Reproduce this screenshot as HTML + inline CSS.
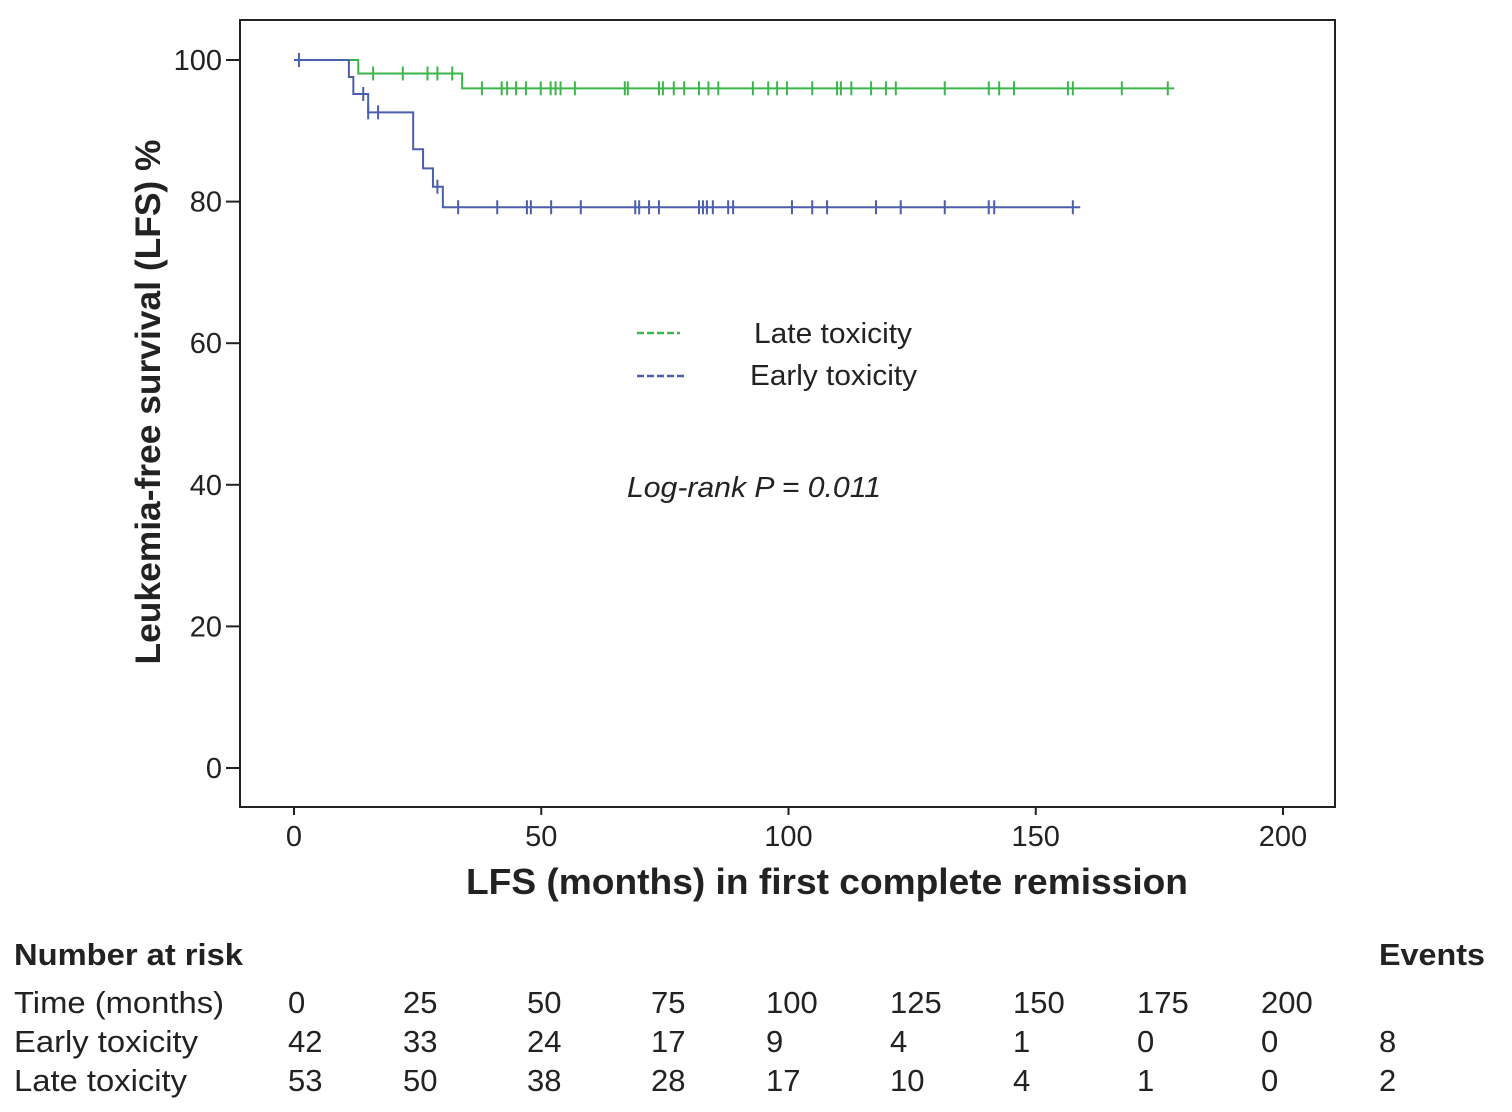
<!DOCTYPE html>
<html><head><meta charset="utf-8"><style>
body{margin:0;background:#fff;width:1512px;height:1107px;overflow:hidden;font-family:"Liberation Sans",Arial,sans-serif;}
</style></head><body>
<svg width="1512" height="1107" xmlns="http://www.w3.org/2000/svg" font-family="Liberation Sans, Arial, sans-serif">
<rect x="240" y="20" width="1095" height="787" fill="none" stroke="#222" stroke-width="2"/>
<g id="axes"></g>
<g id="curves"></g>
<text x="160" y="402" font-size="35" font-weight="bold" fill="#222" text-anchor="middle" textLength="525" lengthAdjust="spacingAndGlyphs" transform="rotate(-90 160 402)">Leukemia-free survival (LFS) %</text>
<text x="827" y="894" font-size="36" font-weight="bold" fill="#222" text-anchor="middle" textLength="722" lengthAdjust="spacingAndGlyphs">LFS (months) in first complete remission</text>
<g>
<line x1="637" y1="333" x2="680" y2="333" stroke="#3cb64a" stroke-width="2.5" stroke-dasharray="7,3"/>
<text x="754" y="343" font-size="29" fill="#222" textLength="158" lengthAdjust="spacingAndGlyphs">Late toxicity</text>
<line x1="637" y1="376" x2="686" y2="376" stroke="#4a5fae" stroke-width="2.5" stroke-dasharray="7,3"/>
<text x="750" y="385" font-size="29" fill="#222" textLength="167" lengthAdjust="spacingAndGlyphs">Early toxicity</text>
</g>
<text x="627" y="497" font-size="29" font-style="italic" fill="#222" textLength="254" lengthAdjust="spacingAndGlyphs">Log-rank P = 0.011</text>
<g font-size="31" fill="#222">
<text x="14" y="965" font-weight="bold" textLength="229" lengthAdjust="spacingAndGlyphs">Number at risk</text>
<text x="1379" y="965" font-weight="bold" textLength="106" lengthAdjust="spacingAndGlyphs">Events</text>
<g id="risk"></g>
</g>
</svg>
<script>
const NS='http://www.w3.org/2000/svg';
const xTicks=[0,50,100,150,200];
const yTicks=[0,20,40,60,80,100];
const lateSteps=[[0,100],[13,98.1],[34,96.0]];
const lateEnd=178;
const lateCensor=[16,22,27,29,32,38,42,43.1,44.9,46.9,49.9,51.9,52.9,53.9,56.8,66.9,67.5,73.8,74.6,76.8,78.9,81.9,83.8,85.8,92.8,95.9,97.7,99.7,104.8,109.8,110.6,112.7,116.7,119.7,121.7,131.6,140.5,142.6,145.6,156.5,157.5,167.4,176.7];
const earlySteps=[[0,100],[11.1,97.6],[12,95.2],[15,92.6],[24.1,87.4],[26.1,84.7],[28.1,82.1],[30.1,79.2]];
const earlyEnd=159;
const earlyCensor=[1,14,15,17,29,33.2,41.1,47.1,47.9,52,58,69,69.8,71.8,73.8,81.9,82.7,83.5,84.7,87.8,88.8,100.7,104.8,107.8,117.7,122.7,131.6,140.5,141.6,157.5];
const riskTimes=['0','25','50','75','100','125','150','175','200'];
const earlyRisk=['42','33','24','17','9','4','1','0','0'];
const lateRisk=['53','50','38','28','17','10','4','1','0'];
const events=['8','2'];
const X=m=>294+m*4.945, Y=v=>768-v*7.08;
function el(t,a,p){const e=document.createElementNS(NS,t);for(const k in a)e.setAttribute(k,a[k]);p.appendChild(e);return e;}
const axes=document.getElementById('axes');
xTicks.forEach(t=>{
 const l=el('line',{x1:X(t),x2:X(t),y1:807,y2:815,stroke:'#222','stroke-width':2},axes);
 
 
 const tx=el('text',{x:X(t),y:846,'font-size':29,'text-anchor':'middle',fill:'#222'},axes);tx.textContent=t;
 
 
});
yTicks.forEach(t=>{
 const l=el('line',{x1:226,x2:240,y1:Y(t),y2:Y(t),stroke:'#222','stroke-width':2},axes);
 
 
 const tx=el('text',{x:222,y:Y(t)+10,'font-size':29,'text-anchor':'end',fill:'#222'},axes);tx.textContent=t;
 
 
});
function survAt(steps,m){let v=100;steps.forEach(s=>{if(s[0]<=m)v=s[1];});return v;}
function curve(steps,end,cens,color,name){
 const g=document.getElementById('curves');
 let d='M'+X(0)+','+Y(steps[0][1]);
 for(let i=1;i<steps.length;i++){d+=' H'+X(steps[i][0])+' V'+Y(steps[i][1]);}
 d+=' H'+X(end);
 const p=el('path',{d:d,fill:'none',stroke:color,'stroke-width':2},g);
 
 
 cens.forEach(c=>{const y=Y(survAt(steps,c));
  const l=el('line',{x1:X(c),x2:X(c),y1:y-7,y2:y+7,stroke:color,'stroke-width':2},g);
  
  
 });
}
curve(lateSteps,lateEnd,lateCensor,'#3cb64a','late-toxicity');
curve(earlySteps,earlyEnd,earlyCensor,'#4a5fae','early-toxicity');
const risk=document.getElementById('risk');
const cols=[288,403,527,651,766,890,1013,1137,1261];
const rows=[['Time (months)',riskTimes,1013,210],['Early toxicity',earlyRisk,1052,184],['Late toxicity',lateRisk,1091,173]];
rows.forEach((r,ri)=>{
 const lab=el('text',{x:14,y:r[2],textLength:r[3],lengthAdjust:'spacingAndGlyphs'},risk);lab.textContent=r[0];
 
 
 r[1].forEach((v,i)=>{const t=el('text',{x:cols[i],y:r[2]},risk);t.textContent=v;
  
  });
 if(ri>0){const t=el('text',{x:1379,y:r[2]},risk);t.textContent=events[ri-1];
  
  }
});
</script>
</body></html>
